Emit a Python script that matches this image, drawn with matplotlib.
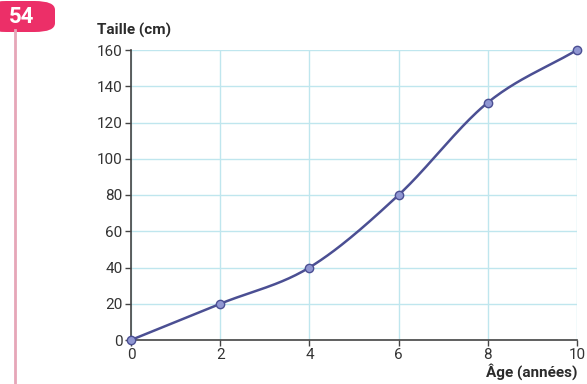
import matplotlib
matplotlib.use("Agg")
import matplotlib.pyplot as plt
from matplotlib.patches import FancyBboxPatch
import numpy as np

ages = [0, 2, 4, 6, 8, 10]
heights = [0, 20, 40, 80, 131, 160]
xticks = [0, 2, 4, 6, 8, 10]
yticks = [0, 20, 40, 60, 80, 100, 120, 140, 160]

LINE = "#4b4f93"
MARK = "#9097d2"
GRID = "#bfe6ee"
TXT = "#2b2b2b"


def smooth(x, y, n=40):
    # Catmull-Rom style cubic Hermite for a smooth line through the points
    x = np.asarray(x, float)
    y = np.asarray(y, float)
    m = np.gradient(y, x)
    xs, ys = [], []
    for i in range(len(x) - 1):
        h = x[i + 1] - x[i]
        t = np.linspace(0, 1, n)
        h00 = 2 * t**3 - 3 * t**2 + 1
        h10 = t**3 - 2 * t**2 + t
        h01 = -2 * t**3 + 3 * t**2
        h11 = t**3 - t**2
        xs.append(x[i] + t * h)
        ys.append(h00 * y[i] + h10 * h * m[i] + h01 * y[i + 1] + h11 * h * m[i + 1])
    return np.concatenate(xs), np.concatenate(ys)


plt.rcParams["font.family"] = ["Roboto", "DejaVu Sans"]
fig = plt.figure(figsize=(5.87, 3.84), dpi=100)
ax = fig.add_axes([131 / 587, 44 / 384, 446 / 587, 290 / 384])

ax.set_xlim(0, 10)
ax.set_ylim(0, 160)
ax.set_xticks(xticks)
ax.set_yticks(yticks)
ax.grid(True, color=GRID, lw=1)
ax.set_axisbelow(True)
for s in ["top", "right"]:
    ax.spines[s].set_visible(False)
for s in ["left", "bottom"]:
    ax.spines[s].set_color("#444444")
    ax.spines[s].set_linewidth(1.2)
ax.tick_params(colors="#333333", labelsize=11, length=4, width=1, color="#444444", pad=2)

sx, sy = smooth(ages, heights)
ax.plot(sx, sy, color=LINE, lw=1.8, clip_on=False, zorder=3)
ax.scatter(ages, heights, s=36, color=MARK, edgecolor=LINE, linewidth=1.0,
           zorder=4, clip_on=False)

fig.text(97 / 587, 1 - 30 / 384, "Taille (cm)", fontsize=11, fontweight="bold",
         color=TXT, va="center", ha="left")
fig.text(577 / 587, 1 - 372 / 384, "Âge (années)", fontsize=11, fontweight="bold",
         color=TXT, va="center", ha="right")

# exercise badge and margin line
fig.add_artist(plt.Line2D([15 / 587, 15 / 587], [0, 1 - 30 / 384],
                          color="#e6a6b8", lw=2, transform=fig.transFigure))
badge = FancyBboxPatch((-14 / 587, 1 - 32 / 384), 69 / 587, 31 / 384,
                       boxstyle="round,pad=0,rounding_size=0.035",
                       transform=fig.transFigure, facecolor="#ec2f68",
                       edgecolor="none", mutation_aspect=384 / 587)
fig.add_artist(badge)
fig.text(22 / 587, 1 - 17 / 384, "54", fontsize=16, fontweight="bold",
         color="white", ha="center", va="center")

fig.savefig("out.png", dpi=100)
